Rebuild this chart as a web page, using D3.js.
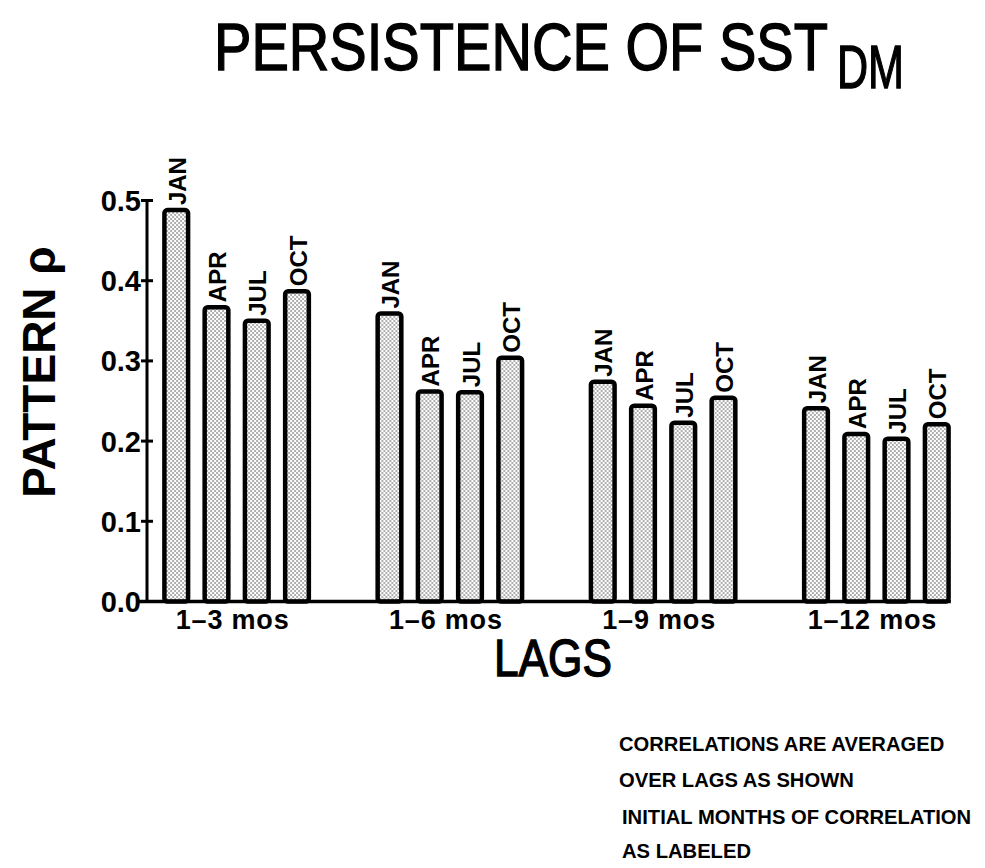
<!DOCTYPE html>
<html>
<head>
<meta charset="utf-8">
<script src="https://cdn.jsdelivr.net/npm/d3@7"></script>
<style>
  html, body { margin: 0; padding: 0; background: #fff; }
  svg { display: block; }
  .bold { font-family: "Liberation Sans", Arial, Helvetica, sans-serif; font-weight: bold; fill: #000; }
  .narrow { font-family: "Liberation Sans Narrow", "Liberation Sans", Arial, sans-serif; fill: #000; stroke: #000; stroke-width: 1.4; }
</style>
</head>
<body>
<script>
// Lag windows (groups) and initial months (bars within each group)
const lags = ["1\u20133 mos", "1\u20136 mos", "1\u20139 mos", "1\u201312 mos"];
const months = ["JAN", "APR", "JUL", "OCT"];

// Pattern correlation, one array per lag window, in month order
const lag1to3  = [0.488, 0.367, 0.350, 0.387];
const lag1to6  = [0.359, 0.262, 0.261, 0.304];
const lag1to9  = [0.274, 0.244, 0.223, 0.254];
const lag1to12 = [0.241, 0.209, 0.203, 0.221];
const seriesByLag = [lag1to3, lag1to6, lag1to9, lag1to12];

const yTicks = [0.0, 0.1, 0.2, 0.3, 0.4, 0.5];
const yTickLabels = ["0.0", "0.1", "0.2", "0.3", "0.4", "0.5"];

const notes = [
  "CORRELATIONS ARE AVERAGED",
  "OVER LAGS AS SHOWN",
  "INITIAL MONTHS OF CORRELATION",
  "AS LABELED"
];

const W = 985, H = 868;
const svg = d3.select("body").append("svg").attr("width", W).attr("height", H);

// stipple fill for the bars
const defs = svg.append("defs");
const pat = defs.append("pattern")
  .attr("id", "stipple").attr("patternUnits", "userSpaceOnUse")
  .attr("width", 4).attr("height", 4);
pat.append("rect").attr("width", 4).attr("height", 4).attr("fill", "#fff");
pat.append("circle").attr("cx", 1).attr("cy", 1).attr("r", 0.7).attr("fill", "#222");
pat.append("circle").attr("cx", 3).attr("cy", 3).attr("r", 0.7).attr("fill", "#222");

const axisX = 147;
const y = d3.scaleLinear().domain([0, 0.5]).range([601.5, 200.5]);
const x0 = d3.scaleBand().domain(lags).range([130, 983]);
const innerWidth = 161;
const x1 = d3.scaleBand().domain(months).range([0, innerWidth])
  .paddingInner(0.3).paddingOuter(0.15);
const bw = x1.bandwidth();
const strokeW = 4.5;

// Title with subscript
svg.append("text").attr("class", "narrow")
  .attr("x", 214).attr("y", 70)
  .attr("font-size", 67)
  .attr("textLength", 614).attr("lengthAdjust", "spacingAndGlyphs")
  .text("PERSISTENCE OF SST");
svg.append("text").attr("class", "narrow")
  .attr("x", 837).attr("y", 88)
  .attr("font-size", 62)
  .attr("textLength", 67).attr("lengthAdjust", "spacingAndGlyphs")
  .text("DM");

// Bars
const groups = svg.append("g").selectAll("g")
  .data(lags.map((l, i) => ({ lag: l, values: seriesByLag[i] })))
  .join("g")
  .attr("transform", d => `translate(${x0(d.lag) + (x0.bandwidth() - innerWidth) / 2},0)`);

const bars = groups.selectAll("g.bar")
  .data(d => months.map((m, j) => ({ month: m, value: d.values[j] })))
  .join("g").attr("class", "bar");

bars.append("rect")
  .attr("x", d => x1(d.month) + strokeW / 2)
  .attr("y", d => y(d.value))
  .attr("width", bw - strokeW)
  .attr("height", d => y(0) - y(d.value))
  .attr("rx", 3).attr("ry", 3)
  .attr("fill", "url(#stipple)")
  .attr("stroke", "#000").attr("stroke-width", strokeW);

// Month labels above each bar, rotated
bars.append("text").attr("class", "bold")
  .attr("font-size", 24)
  .attr("transform", d => `translate(${x1(d.month) + bw / 2 + 1},${y(d.value) - 5}) rotate(-90)`)
  .attr("dy", "0.36em")
  .attr("text-anchor", "start")
  .text(d => d.month);

// Baseline from the axis to the last bar
const lastGroupLeft = x0(lags[lags.length - 1]) + (x0.bandwidth() - innerWidth) / 2;
svg.append("line")
  .attr("x1", axisX - 10).attr("x2", lastGroupLeft + x1(months[months.length - 1]) + bw)
  .attr("y1", y(0)).attr("y2", y(0))
  .attr("stroke", "#000").attr("stroke-width", 3.5);

// Y axis
const yAxis = svg.append("g");
yAxis.append("line")
  .attr("x1", axisX).attr("x2", axisX)
  .attr("y1", y(0)).attr("y2", y(0.5))
  .attr("stroke", "#000").attr("stroke-width", 3);
yAxis.selectAll("line.tick")
  .data(yTicks.slice(1))
  .join("line").attr("class", "tick")
  .attr("x1", axisX - 6).attr("x2", axisX + 6)
  .attr("y1", d => y(d)).attr("y2", d => y(d))
  .attr("stroke", "#000").attr("stroke-width", 3);
yAxis.selectAll("text")
  .data(yTicks)
  .join("text").attr("class", "bold")
  .attr("x", axisX - 6).attr("y", d => y(d))
  .attr("dy", "0.36em")
  .attr("text-anchor", "end")
  .attr("font-size", 29)
  .text((d, i) => yTickLabels[i]);

// X category labels
svg.append("g").selectAll("text")
  .data(lags)
  .join("text").attr("class", "bold")
  .attr("x", d => x0(d) + x0.bandwidth() / 2 - 4)
  .attr("y", 629)
  .attr("text-anchor", "middle")
  .attr("font-size", 27)
  .attr("letter-spacing", 0.8)
  .text(d => d);

// Axis titles
svg.append("text").attr("class", "narrow")
  .attr("x", 553).attr("y", 676)
  .attr("text-anchor", "middle")
  .attr("font-size", 52)
  .attr("textLength", 118).attr("lengthAdjust", "spacingAndGlyphs")
  .text("LAGS");

svg.append("text").attr("class", "bold")
  .attr("transform", "translate(55,372) rotate(-90)")
  .attr("text-anchor", "middle")
  .attr("font-size", 46)
  .text("PATTERN \u03C1");

// Notes
const noteY = [751, 787, 824, 858];
const noteX = [619, 619, 622, 622];
svg.append("g").selectAll("text")
  .data(notes)
  .join("text").attr("class", "bold")
  .attr("x", (d, i) => noteX[i]).attr("y", (d, i) => noteY[i])
  .attr("font-size", 20.2)
  .text(d => d);
</script>
</body>
</html>
